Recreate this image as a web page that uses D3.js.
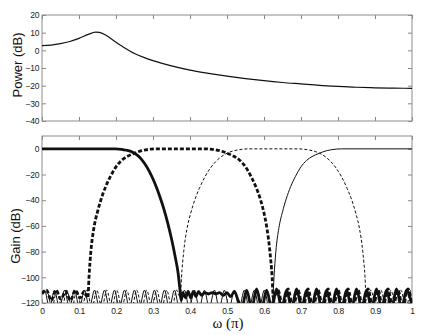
<!DOCTYPE html>
<html>
<head>
<meta charset="utf-8">
<script src="https://cdn.jsdelivr.net/npm/d3@7"></script>
<style>
  body { margin: 0; background: #fff; }
  svg { display: block; }
  .tick text { font-family: "Liberation Sans", Arial, sans-serif; font-size: 8.5px; letter-spacing: -0.4px; fill: #222; }
  .tick line { stroke: #888; }
  .domain { display: none; }
</style>
</head>
<body>
<div id="chartContainer"></div>
<script>
const width = 441;
const height = 335;
const marginLeft = 42;
const marginRight = 29;

// tick values / labels
const omegaTicks = [0, 0.1, 0.2, 0.3, 0.4, 0.5, 0.6, 0.7, 0.8, 0.9, 1];
const omegaLabels = ["0", "0.1", "0.2", "0.3", "0.4", "0.5", "0.6", "0.7", "0.8", "0.9", "1"];
const powerTicks = [20, 10, 0, -10, -20, -30, -40];
const gainTicks = [0, -20, -40, -60, -80, -100, -120];

// power spectrum, [omega, dB]
const power = [[0,2.7],[0.025,3.0],[0.05,3.8],[0.075,5.0],[0.1,6.8],[0.125,9.0],[0.145,10.3],[0.155,10.2],
  [0.175,8.2],[0.2,4.6],[0.225,1.2],[0.25,-1.8],[0.275,-4.0],[0.3,-5.8],[0.35,-8.8],[0.4,-11.2],[0.45,-13.0],
  [0.5,-14.6],[0.55,-16],[0.6,-17.2],[0.65,-18.2],[0.7,-19.0],[0.75,-19.8],[0.8,-20.4],[0.85,-20.9],
  [0.9,-21.2],[0.95,-21.4],[1.0,-21.5]];

// filter bank gains, [omega, dB]
const lowpass = [[0,0],[0.2,0],[0.215,-0.4],[0.228,-1.1],[0.24,-2.0],[0.25,-3.4],[0.26,-5.5],[0.27,-8.5],
  [0.28,-12.5],[0.29,-17.5],[0.30,-23.5],[0.31,-30.5],[0.32,-38.5],[0.33,-47.5],[0.34,-58],[0.35,-70],
  [0.36,-84],[0.368,-97],[0.373,-110],[0.376,-118],
  [0.381,-112],[0.388,-116],[0.395,-111],[0.402,-116],[0.409,-111],[0.416,-115],[0.423,-111],[0.431,-114],
  [0.44,-112],[0.45,-113],[0.46,-112],[0.47,-113],[0.48,-112],[0.49,-114],[0.50,-112],[0.51,-115],[0.52,-111],[0.53,-118],
  [0.54,-124],[0.553,-110],[0.567,-124],[0.580,-109],[0.594,-124],[0.607,-110],[0.621,-124],[0.634,-109],
  [0.648,-124],[0.661,-110],[0.675,-124],[0.688,-109],[0.702,-124],[0.715,-110],[0.729,-124],[0.742,-109],
  [0.756,-124],[0.769,-110],[0.783,-124],[0.796,-109],[0.810,-124],[0.823,-110],[0.837,-124],[0.850,-109],
  [0.864,-124],[0.877,-110],[0.891,-124],[0.904,-109],[0.918,-124],[0.931,-110],[0.945,-124],[0.958,-109],
  [0.972,-124],[0.985,-110],[1.0,-122]];

const bandpass1 = [[0,-113],[0.012,-110],[0.025,-118],[0.038,-110],[0.051,-117],[0.064,-111],[0.077,-118],
  [0.090,-110],[0.103,-116],[0.114,-111],[0.124,-116],[0.127,-100],[0.132,-80],[0.140,-62],[0.150,-49],
  [0.160,-39],[0.172,-29.5],[0.185,-21.5],[0.20,-14],[0.215,-9],[0.23,-6],[0.25,-3.4],[0.265,-1.8],
  [0.28,-0.8],[0.295,-0.2],[0.31,0],[0.44,0],[0.455,-0.2],[0.47,-0.8],[0.485,-1.8],[0.5,-3.4],[0.52,-6],
  [0.535,-9],[0.55,-14],[0.565,-21.5],[0.578,-29.5],[0.59,-39],[0.60,-50],[0.608,-62],[0.616,-80],
  [0.622,-100],[0.625,-116],
  [0.638,-110],[0.651,-124],[0.665,-109],[0.678,-124],[0.692,-110],[0.705,-124],[0.719,-109],[0.732,-124],
  [0.746,-110],[0.759,-124],[0.773,-109],[0.786,-124],[0.800,-110],[0.813,-124],[0.827,-109],[0.840,-124],
  [0.854,-110],[0.867,-124],[0.881,-109],[0.894,-124],[0.908,-110],[0.921,-124],[0.935,-109],[0.948,-124],
  [0.962,-110],[0.975,-124],[0.989,-109],[1.0,-122]];

const bandpass2 = [[0,-112],[0.013,-110],[0.027,-124],[0.040,-110],[0.054,-124],[0.067,-110],[0.081,-124],
  [0.094,-110],[0.108,-124],[0.121,-110],[0.135,-124],[0.148,-110],[0.162,-124],[0.175,-110],[0.189,-124],
  [0.202,-110],[0.216,-124],[0.229,-110],[0.243,-124],[0.256,-110],[0.270,-124],[0.283,-110],[0.297,-124],
  [0.310,-110],[0.324,-124],[0.337,-110],[0.351,-124],[0.364,-110],[0.374,-116],[0.377,-100],[0.383,-80],
  [0.392,-62],[0.402,-50],[0.412,-40.5],[0.425,-31],[0.44,-22],[0.455,-15],[0.47,-9.8],[0.485,-6],
  [0.5,-3.4],[0.515,-1.8],[0.53,-0.8],[0.545,-0.2],[0.56,0],[0.69,0],[0.705,-0.2],[0.72,-0.8],[0.735,-1.8],
  [0.75,-3.4],[0.765,-6],[0.78,-9.8],[0.795,-15],[0.81,-22],[0.825,-31],[0.838,-40.5],[0.848,-50],
  [0.858,-62],[0.867,-80],[0.873,-100],[0.876,-116],
  [0.889,-110],[0.903,-124],[0.916,-110],[0.930,-124],[0.943,-110],[0.957,-124],[0.970,-110],
  [0.984,-124],[0.997,-110],[1.0,-111]];

const highpass = [[0,-111],[0.007,-110],[0.020,-124],[0.034,-110],[0.047,-124],[0.061,-110],[0.074,-124],
  [0.088,-110],[0.101,-124],[0.115,-110],[0.128,-124],[0.142,-110],[0.155,-124],[0.169,-110],[0.182,-124],
  [0.196,-110],[0.209,-124],[0.223,-110],[0.236,-124],[0.250,-110],[0.263,-124],[0.277,-110],[0.290,-124],
  [0.304,-110],[0.317,-124],[0.331,-110],[0.344,-124],[0.358,-110],[0.371,-124],[0.385,-110],[0.398,-124],
  [0.412,-110],[0.425,-124],[0.439,-110],[0.452,-124],[0.466,-110],[0.479,-124],[0.493,-110],[0.506,-124],
  [0.520,-110],[0.533,-124],[0.547,-110],[0.560,-124],[0.574,-110],[0.587,-124],[0.601,-110],[0.614,-124],
  [0.624,-116],[0.627,-100],[0.632,-80],[0.640,-62],[0.650,-49],[0.660,-39],[0.672,-29.5],[0.685,-21.5],
  [0.70,-14],[0.715,-9],[0.73,-6],[0.75,-3.4],[0.765,-1.8],[0.78,-0.8],[0.795,-0.2],[0.81,0],[1,0]];

var svg = d3.select("#chartContainer").append("svg")
    .attr("width", width).attr("height", height);

var xScale = d3.scaleLinear().domain([0, 1]).range([marginLeft, width - marginRight]);
var powerScale = d3.scaleLinear().domain([-40, 20]).range([121, 15]);
var gainScale = d3.scaleLinear().domain([-120, 10]).range([303, 136]);

function drawAxes(yScale, yTicks, showX) {
    var g = svg.append("g");
    var top = yScale.range()[1], bottom = yScale.range()[0];
    g.append("g")
        .attr("transform", "translate(0," + bottom + ")")
        .call(d3.axisBottom(xScale).tickValues(omegaTicks).tickSize(-4).tickPadding(5)
            .tickFormat(function (d, i) { return showX ? omegaLabels[i] : ""; }));
    g.append("g")
        .attr("transform", "translate(0," + top + ")")
        .call(d3.axisTop(xScale).tickValues(omegaTicks).tickSize(-4).tickFormat(""));
    g.append("g")
        .attr("transform", "translate(" + marginLeft + ",0)")
        .call(d3.axisLeft(yScale).tickValues(yTicks).tickSize(-4).tickPadding(3));
    g.append("g")
        .attr("transform", "translate(" + (width - marginRight) + ",0)")
        .call(d3.axisRight(yScale).tickValues(yTicks).tickSize(-4).tickFormat(""));
    g.append("rect")
        .attr("x", marginLeft).attr("y", top)
        .attr("width", width - marginRight - marginLeft).attr("height", bottom - top)
        .attr("fill", "none").attr("stroke", "#8c8c8c").attr("stroke-width", 1);
}

function addClip(id, yScale) {
    var top = yScale.range()[1], bottom = yScale.range()[0];
    svg.append("clipPath").attr("id", id).append("rect")
        .attr("x", marginLeft).attr("y", top)
        .attr("width", width - marginRight - marginLeft).attr("height", bottom - top);
}

addClip("clipTop", powerScale);
addClip("clipBottom", gainScale);
drawAxes(powerScale, powerTicks, false);
drawAxes(gainScale, gainTicks, true);

var powerLine = d3.line()
    .x(function (d) { return xScale(d[0]); })
    .y(function (d) { return powerScale(d[1]); })
    .curve(d3.curveMonotoneX);

var gainLine = d3.line()
    .x(function (d) { return xScale(d[0]); })
    .y(function (d) { return gainScale(d[1]); })
    .curve(d3.curveMonotoneX);

svg.append("path")
    .attr("clip-path", "url(#clipTop)")
    .style("fill", "none").style("stroke", "#111").style("stroke-width", "1.2px")
    .attr("d", powerLine(power));

var gainSeries = [
    { data: highpass, width: 1, dash: null },
    { data: bandpass2, width: 1, dash: "3,2" },
    { data: bandpass1, width: 2.8, dash: "4,2" },
    { data: lowpass, width: 2.8, dash: null }
];

var gainGroup = svg.append("g").attr("clip-path", "url(#clipBottom)");
gainSeries.forEach(function (s) {
    gainGroup.append("path")
        .style("fill", "none").style("stroke", "#111")
        .style("stroke-width", s.width + "px")
        .style("stroke-dasharray", s.dash)
        .attr("d", gainLine(s.data));
});

// axis labels
svg.append("text")
    .attr("transform", "translate(22,65) rotate(-90)")
    .attr("text-anchor", "middle")
    .style("font-family", "'Liberation Sans', Arial, sans-serif").style("font-size", "13px").style("fill", "#111")
    .text("Power (dB)");
svg.append("text")
    .attr("transform", "translate(20,236) rotate(-90)")
    .attr("text-anchor", "middle")
    .style("font-family", "'Liberation Sans', Arial, sans-serif").style("font-size", "13px").style("fill", "#111")
    .text("Gain (dB)");
svg.append("text")
    .attr("x", 228).attr("y", 328)
    .attr("text-anchor", "middle")
    .style("font-family", "'Liberation Serif', 'Times New Roman', serif").style("font-size", "15px").style("fill", "#111")
    .text("ω (π)");
</script>
</body>
</html>
